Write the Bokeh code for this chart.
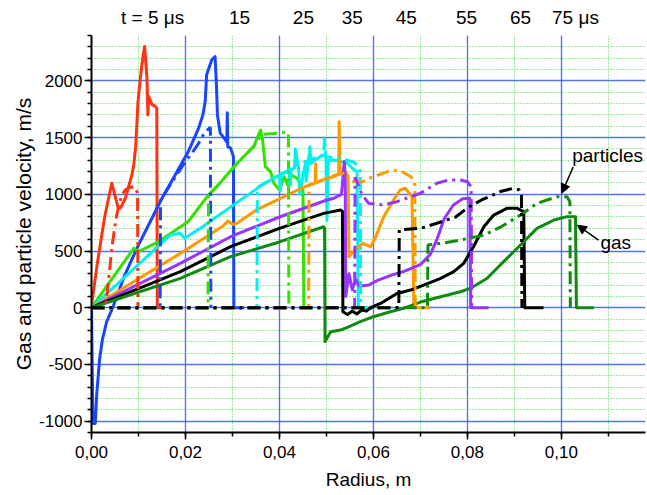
from bokeh.plotting import figure
from bokeh.models import (LinearAxis, SingleIntervalTicker, FixedTicker, Title,
                          CustomJSTickFormatter, Label, Arrow, NormalHead, Range1d)
from bokeh.embed import file_html
from bokeh.resources import INLINE

FONT = "Liberation Sans"

# ---------------- data (radius in m, velocity in m/s) ----------------
times_us = [5, 15, 25, 35, 45, 55, 65, 75]
colors = ["#ff3311", "#1a44ff", "#33e000", "#00f0f0", "#ff9900", "#9933ff", "#000000", "#128a12"]

# 5 us
gas_r_5 = [0, 0.0012, 0.0028, 0.0043, 0.0050, 0.0057, 0.0062, 0.0072, 0.0086, 0.0090, 0.0094, 0.0099,
           0.0104, 0.0109, 0.0113, 0.0118, 0.0120, 0.0122, 0.0129, 0.0136, 0.0139, 0.0140, 0.0156]
gas_v_5 = [20, 380, 800, 1098, 990, 877, 880, 965, 1171, 1260, 1420, 1818,
           2025, 2200, 2304, 2025, 1700, 1860, 1790, 1775, 1760, 0, 0]
par_r_5 = [0, 0.0030, 0.0036, 0.0044, 0.0052, 0.0057, 0.0064, 0.0072, 0.0082, 0.0090, 0.0095, 0.0098, 0.0099]
par_v_5 = [0, 0, 230, 550, 780, 880, 990, 1040, 1060, 1068, 1040, 1010, 0]

# 15 us
gas_r_15 = [0, 0.0003, 0.0008, 0.0011, 0.0017, 0.0023, 0.0032, 0.0045, 0.0070, 0.0100, 0.0150, 0.0178,
            0.0206, 0.0228, 0.0237, 0.0242, 0.0245, 0.0256, 0.0263, 0.0266, 0.0268, 0.0274, 0.0285,
            0.0288, 0.0289, 0.0290, 0.0296, 0.0302, 0.0303, 0.0325]
gas_v_15 = [0, -1020, -1020, -770, -462, -285, -126, 0, 280, 553, 965, 1171,
            1377, 1583, 1700, 1818, 2054, 2186, 2215, 1950, 1700, 1539, 1480,
            1460, 1720, 1420, 1407, 1333, 0, 0]
par_r_15 = [0, 0.0146, 0.0147, 0.0178, 0.0200, 0.0215, 0.0228, 0.0240, 0.0250, 0.0253, 0.0254]
par_v_15 = [0, 0, 950, 1150, 1290, 1370, 1450, 1540, 1580, 1590, 0]

# 25 us
gas_r_25 = [0, 0.0090, 0.0100, 0.0143, 0.0206, 0.0249, 0.0270, 0.0310, 0.0345, 0.0360, 0.0364, 0.0370,
            0.0381, 0.0388, 0.0400, 0.0410, 0.0418, 0.0425, 0.0438, 0.0444, 0.0450, 0.0452, 0.0470]
gas_v_25 = [0, 524, 494, 583, 760, 995, 1083, 1274, 1421, 1565, 1480, 1244,
            1200, 1097, 1040, 1155, 1080, 1170, 1141, 1090, 1038, 0, 0]
par_r_25 = [0, 0.0248, 0.0249, 0.0270, 0.0310, 0.0345, 0.0358, 0.0365, 0.0390, 0.0410, 0.0419, 0.0420]
par_v_25 = [0, 0, 990, 1083, 1274, 1421, 1500, 1530, 1535, 1545, 1540, 0]

# 35 us
gas_r_35 = [0, 0.0168, 0.0189, 0.0198, 0.0232, 0.0300, 0.0366, 0.0400, 0.0402, 0.0404, 0.0420, 0.0423,
            0.0425, 0.0432, 0.0434, 0.0441, 0.0443, 0.0455, 0.0457, 0.0465, 0.0467, 0.0475, 0.0490,
            0.0499, 0.0501, 0.0504, 0.0515, 0.0530, 0.0545, 0.0555, 0.0565, 0.0568, 0.0590]
gas_v_35 = [0, 642, 657, 612, 700, 900, 1090, 1170, 1030, 1180, 1200, 1080,
            1220, 1230, 1400, 1220, 1000, 1270, 1120, 1420, 1270, 1300, 1340,
            1340, 770, 1300, 1302, 1290, 1270, 1230, 1200, 0, 0]
par_r_35 = [0, 0.0352, 0.0353, 0.0400, 0.0450, 0.0494, 0.0496, 0.0498, 0.0530, 0.0560, 0.0572, 0.0573]
par_v_35 = [0, 0, 1060, 1170, 1280, 1350, 1500, 1330, 1320, 1280, 1200, 0]

# 45 us
gas_r_45 = [0, 0.0100, 0.0189, 0.0280, 0.0290, 0.0300, 0.0310, 0.0350, 0.0400, 0.0450, 0.0476, 0.0477,
            0.0478, 0.0500, 0.0516, 0.0526, 0.0527, 0.0529, 0.0540, 0.0546, 0.0548, 0.0560, 0.0577,
            0.0594, 0.0605, 0.0622, 0.0643, 0.0657, 0.0668, 0.0682, 0.0686, 0.0721]
gas_v_45 = [0, 255, 479, 720, 765, 735, 745, 860, 960, 1060, 1100, 1270,
            1100, 1140, 1155, 1180, 1640, 1190, 1200, 1160, 450, 508, 567,
            538, 626, 803, 950, 1038, 1053, 979, 0, 0]
par_r_45 = [0, 0.0462, 0.0463, 0.0500, 0.0520, 0.0540, 0.0551, 0.0577, 0.0590, 0.0620, 0.0640, 0.0660,
            0.0680, 0.0688, 0.0689]
par_v_45 = [0, 0, 1080, 1140, 1170, 1190, 1111, 1111, 1140, 1185, 1214, 1200,
            1155, 1100, 0]

# 55 us
gas_r_55 = [0, 0.0189, 0.0296, 0.0400, 0.0501, 0.0516, 0.0532, 0.0538, 0.0540, 0.0541, 0.0548, 0.0555,
            0.0562, 0.0570, 0.0590, 0.0610, 0.0640, 0.0665, 0.0700, 0.0721, 0.0735, 0.0750, 0.0770,
            0.0790, 0.0805, 0.0807, 0.0845]
gas_v_55 = [0, 391, 626, 800, 950, 965, 1000, 1290, 1150, 100, 300, 160,
            250, 190, 200, 244, 290, 320, 380, 470, 600, 780, 906,
            960, 965, 0, 0]
par_r_55 = [0, 0.0560, 0.0561, 0.0566, 0.0575, 0.0590, 0.0620, 0.0650, 0.0700, 0.0735, 0.0760, 0.0785,
            0.0800, 0.0808, 0.0809]
par_v_55 = [0, 0, 1150, 1100, 1000, 920, 906, 935, 1009, 1098, 1126, 1126,
            1110, 1067, 0]

# 65 us
gas_r_65 = [0, 0.0189, 0.0296, 0.0400, 0.0494, 0.0530, 0.0534, 0.0535, 0.0545, 0.0555, 0.0565, 0.0575,
            0.0585, 0.0594, 0.0615, 0.0650, 0.0679, 0.0707, 0.0743, 0.0771, 0.0792, 0.0813, 0.0835,
            0.0856, 0.0884, 0.0906, 0.0920, 0.0922, 0.0962]
gas_v_65 = [0, 318, 538, 700, 832, 861, 850, -35, -60, -30, -55, -20,
            -30, 0, 38, 126, 156, 200, 259, 318, 391, 538, 714,
            817, 876, 876, 847, 0, 0]
par_r_65 = [0, 0.0654, 0.0655, 0.0700, 0.0735, 0.0775, 0.0800, 0.0830, 0.0850, 0.0870, 0.0895, 0.0910,
            0.0915, 0.0916]
par_v_65 = [0, 0, 686, 700, 745, 800, 880, 950, 985, 1024, 1050, 1040,
            1000, 0]

# 75 us
gas_r_75 = [0, 0.0189, 0.0296, 0.0400, 0.0494, 0.0496, 0.0497, 0.0509, 0.0530, 0.0547, 0.0572, 0.0600,
            0.0636, 0.0664, 0.0700, 0.0743, 0.0785, 0.0806, 0.0842, 0.0877, 0.0913, 0.0948, 0.0984,
            0.1012, 0.1030, 0.1032, 0.1069]
gas_v_75 = [0, 259, 450, 580, 714, 700, -300, -212, -197, -168, -123, -79,
            -35, -6, 50, 97, 141, 170, 260, 406, 553, 700, 773,
            803, 803, 0, 0]
par_r_75 = [0, 0.0715, 0.0716, 0.0743, 0.0785, 0.0835, 0.0870, 0.0913, 0.0948, 0.0991, 0.1012, 0.1018, 0.1019]
par_v_75 = [0, 0, 553, 567, 597, 640, 710, 817, 920, 979, 979, 935, 0]

# time labels along the top
time_label_r = [0.0130, 0.0315, 0.0451, 0.0555, 0.0670, 0.0798, 0.0913, 0.1030]
time_labels = ["t = 5 \u03bcs", "15", "25", "35", "45", "55", "65", "75 \u03bcs"]

gas_r = [gas_r_5, gas_r_15, gas_r_25, gas_r_35, gas_r_45, gas_r_55, gas_r_65, gas_r_75]
gas_v = [gas_v_5, gas_v_15, gas_v_25, gas_v_35, gas_v_45, gas_v_55, gas_v_65, gas_v_75]
par_r = [par_r_5, par_r_15, par_r_25, par_r_35, par_r_45, par_r_55, par_r_65, par_r_75]
par_v = [par_v_5, par_v_15, par_v_25, par_v_35, par_v_45, par_v_55, par_v_65, par_v_75]

# ---------------- figure ----------------
p = figure(width=647, height=495, output_backend="svg", toolbar_location=None,
           x_range=Range1d(0, 0.1179), y_range=Range1d(-1100, 2400),
           min_border_left=91, min_border_right=2, min_border_top=35, min_border_bottom=63,
           x_axis_label="Radius, m")
p.outline_line_color = None
p.background_fill_color = "white"
p.border_fill_color = "white"

p.xaxis.ticker = SingleIntervalTicker(interval=0.02, num_minor_ticks=2)
p.yaxis.ticker = SingleIntervalTicker(interval=500, num_minor_ticks=5)
p.xaxis.formatter = CustomJSTickFormatter(code="return tick.toFixed(2).replace('.', ',');")
p.yaxis.formatter = CustomJSTickFormatter(code="return tick.toFixed(0);")

for ax in (p.xaxis[0], p.yaxis[0]):
    ax.axis_line_width = 2
    ax.axis_line_color = "black"
    ax.major_tick_line_width = 1.5
    ax.minor_tick_line_width = 1.5
    ax.major_tick_in = 0
    ax.major_tick_out = 7
    ax.minor_tick_in = 0
    ax.minor_tick_out = 4
    ax.major_label_text_font = FONT
    ax.major_label_text_font_size = "17px"
    ax.major_label_text_color = "black"
    ax.axis_label_text_font = FONT
    ax.axis_label_text_font_style = "normal"
    ax.axis_label_text_color = "black"
p.xaxis.major_label_standoff = 6
p.xaxis.axis_label_standoff = 8
p.xaxis.axis_label_text_font_size = "19px"
p.yaxis.major_label_standoff = 2

for g in (p.xgrid[0], p.ygrid[0]):
    g.grid_line_color = "#3355ff"
    g.grid_line_alpha = 0.8
    g.grid_line_width = 1.4
    g.minor_grid_line_color = "#33dd33"
    g.minor_grid_line_dash = "1 2"
    g.minor_grid_line_width = 1

# y-axis title, shifted up like in the original
p.add_layout(Title(text="Gas and particle velocity, m/s", align="center", offset=47,
                   text_font=FONT, text_font_size="21px", text_font_style="normal",
                   text_color="black", standoff=4), "left")

top_ax = LinearAxis(
    ticker=FixedTicker(ticks=time_label_r),
    formatter=CustomJSTickFormatter(args=dict(labels=time_labels), code="return labels[index];"),
    axis_line_color=None, major_tick_line_color=None, minor_tick_line_color=None,
    major_tick_out=0, major_tick_in=0,
    major_label_text_font=FONT, major_label_text_font_size="19px",
    major_label_standoff=8, major_label_text_color="black")
p.add_layout(top_ax, "above")

# gas (solid) then particles (dash-dot); black particle curve drawn last
for i in range(len(times_us)):
    p.line(gas_r[i], gas_v[i], line_color=colors[i], line_width=3, line_join="round")
for i in [0, 1, 2, 3, 4, 5, 7, 6]:
    p.line(par_r[i], par_v[i], line_color=colors[i], line_width=3, line_dash="13 5 3 5")

# annotations
p.add_layout(Label(x=0.1023, y=1346, text="particles", text_baseline="middle",
                   text_font=FONT, text_font_size="19px", text_color="black"))
p.add_layout(Arrow(end=NormalHead(size=9, fill_color="black", line_color="black"),
                   x_start=0.1025, y_start=1240, x_end=0.1001, y_end=1010,
                   line_width=1.5, line_color="black"))
p.add_layout(Label(x=0.1083, y=578, text="gas", text_baseline="middle",
                   text_font=FONT, text_font_size="19px", text_color="black"))
p.add_layout(Arrow(end=NormalHead(size=9, fill_color="black", line_color="black"),
                   x_start=0.1079, y_start=597, x_end=0.1034, y_end=728,
                   line_width=1.5, line_color="black"))

open("out.html", "w").write(file_html(p, INLINE))
